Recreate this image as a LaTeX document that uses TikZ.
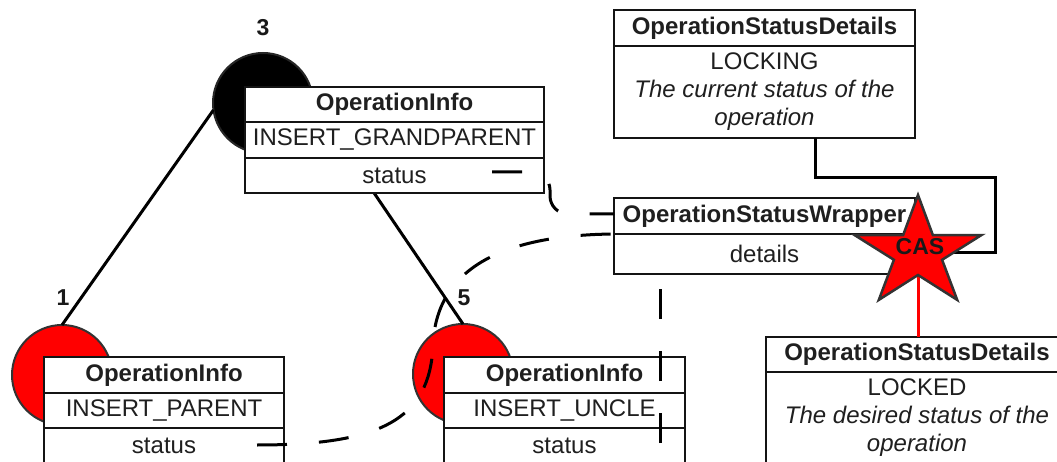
\documentclass[tikz,border=0pt]{standalone}
\usepackage{fontspec}
\setmainfont{Liberation Sans}
\begin{document}
\begin{tikzpicture}[x=1pt,y=-1pt,
  every node/.style={inner sep=0pt, outer sep=0pt},
  cell/.style={draw=black!92, line width=1.5pt, fill=white, text=black!88,
    font=\fontsize{24}{28}\selectfont, align=center},
  hdr/.style={cell, font=\fontsize{24}{28}\selectfont\bfseries},
  treeline/.style={line width=3pt, black},
  blacknode/.style={circle, minimum size=100pt, fill=black, draw=black!85, line width=2pt},
  rednode/.style={circle, minimum size=100pt, fill=red, draw=black!80, line width=2pt},
  keylabel/.style={font=\fontsize{23}{23}\selectfont\bfseries, text=black!90},
  dashlink/.style={line width=3pt, dash pattern=on 30pt off 32pt, black},
  solidlink/.style={line width=3pt, black},
  caslink/.style={line width=3pt, red},
  casstar/.style={fill=red, draw=black!80, line width=2.5pt, line join=miter}
]
\useasboundingbox (0,0) rectangle (1057,462);
\clip (0,0) rectangle (1057,462);

% tree nodes
\node[blacknode] (n3) at (263,103) {};
\node[rednode] (n1) at (62,375) {};
\node[rednode] (n5) at (463,374) {};

% tree edges, ending on the node borders
\draw[treeline] (n1.north) -- (n3.188);
\draw[treeline] (n3.east) -- (n5.north);

\node[keylabel] (k3) at (263,28) {3};
\node[keylabel] (k1) at (63,298) {1};
\node[keylabel] (k5) at (464,298) {5};

% OperationInfo of the grandparent
\node[hdr, minimum width=299pt, minimum height=35pt] (gph) at (394.5,104.5) {OperationInfo};
\node[cell, minimum width=299pt, minimum height=36pt, anchor=north] (gpk) at (gph.south) {INSERT\_GRANDPARENT};
\node[cell, minimum width=299pt, minimum height=35pt, anchor=north] (gps) at (gpk.south) {status};

% OperationInfo of the parent
\node[hdr, minimum width=240pt, minimum height=36pt] (ph) at (164,375) {OperationInfo};
\node[cell, minimum width=240pt, minimum height=35pt, anchor=north] (pk) at (ph.south) {INSERT\_PARENT};
\node[cell, minimum width=240pt, minimum height=36pt, anchor=north] (ps) at (pk.south) {status};

% OperationInfo of the uncle
\node[hdr, minimum width=241pt, minimum height=36pt] (uh) at (564.5,375) {OperationInfo};
\node[cell, minimum width=241pt, minimum height=35pt, anchor=north] (uk) at (uh.south) {INSERT\_UNCLE};
\node[cell, minimum width=241pt, minimum height=36pt, anchor=north] (us) at (uk.south) {status};

% current status details
\node[hdr, minimum width=301pt, minimum height=36pt] (tdh) at (764.5,28) {OperationStatusDetails};
\node[cell, minimum width=301pt, minimum height=92pt, anchor=north] (tdb) at (tdh.south)
  {LOCKING\\\textit{The current status of the}\\\textit{operation}};

% wrapper
\node[hdr, minimum width=301pt, minimum height=36pt] (wrh) at (764.5,216) {OperationStatusWrapper};
\node[cell, minimum width=301pt, minimum height=40pt, anchor=north] (wrb) at (wrh.south) {details};

% desired status details
\node[hdr, minimum width=302pt, minimum height=35pt] (bdh) at (917,354.5) {OperationStatusDetails};
\node[cell, minimum width=302pt, minimum height=92pt, anchor=north] (bdb) at (bdh.south)
  {LOCKED\\\textit{The desired status of the}\\\textit{operation}};

% CAS star
\coordinate (cas) at (918,253);
\coordinate (tdx) at (815,0);
\coordinate (rbend) at (995,178);
\draw[solidlink] (tdb.south -| tdx) |- (rbend) |- (cas);
\draw[caslink] (cas) -- (cas |- bdh.north);
\draw[casstar] (918,195) -- (932.9,235.2) -- (981.4,235.1) -- (942.1,259.8)
  -- (957.2,299.9) -- (918,275) -- (878.8,299.9) -- (893.9,259.8)
  -- (854.6,235.1) -- (903.1,235.2) -- cycle;
\node[font=\fontsize{23}{23}\selectfont\bfseries, text=black!90] (caslabel) at (920,247) {CAS};

% pointers
\coordinate (gpstat) at (492,172);
\coordinate (pstat) at (257,445);
\coordinate (ustat) at (660,443);
\coordinate (wrin) at (0,214);
\draw[dashlink, rounded corners=18pt] (gpstat) -- (550,172) -- (550,214) -- (wrh.west |- wrin);
\draw[dashlink] (pstat) .. controls (380,445) and (430,420) .. (433,345)
  .. controls (436,270) and (500,235) .. (wrb.north west);
\draw[dashlink] (ustat) -- (ustat |- wrb.south);
\end{tikzpicture}
\end{document}
